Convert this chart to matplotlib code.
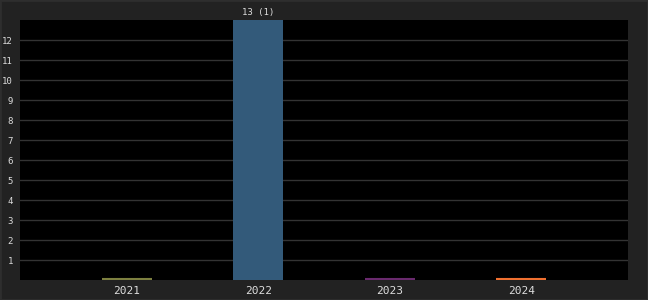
import matplotlib
matplotlib.use("Agg")
import matplotlib.pyplot as plt
from matplotlib.patches import Rectangle

categories = ["2021", "2022", "2023", "2024"]
values = [0, 13, 0, 0]
labels = ["", "13 (1)", "", ""]
colors = ["#7d8040", "#335a7a", "#6a2a6e", "#f07030"]
yticks = list(range(1, 13))

fig = plt.figure(figsize=(6.48, 3.0), dpi=100, facecolor="#222222")
ax = fig.add_axes([20/648, 20/300, 608/648, 260/300])
ax.set_facecolor("#000000")

x = list(range(len(categories)))
for xi, v, c, lab in zip(x, values, colors, labels):
    if v > 0:
        ax.bar(xi, v, width=0.38, color=c, zorder=3)
        ax.text(xi, v + 0.15, lab, ha="center", va="bottom", color="#dddddd",
                fontsize=6.5, family="DejaVu Sans Mono", clip_on=False)
    else:
        ax.plot([xi - 0.19, xi + 0.19], [0.03, 0.03], color=c, lw=1.5,
                solid_capstyle="butt", zorder=3)

ax.set_xlim(-0.81, 3.81)
ax.set_ylim(0, 13)
ax.set_yticks(yticks)
ax.set_yticklabels([str(t) for t in yticks], family="DejaVu Sans Mono",
                   fontsize=6.5, color="#dddddd")
ax.set_xticks(x)
ax.set_xticklabels(categories, family="DejaVu Sans Mono", fontsize=8, color="#dddddd")
ax.tick_params(axis="both", length=0)
ax.tick_params(axis="y", pad=5)
ax.tick_params(axis="x", pad=4)
ax.grid(axis="y", color="#333333", lw=1, zorder=0)
for s in ax.spines.values():
    s.set_visible(False)

fig.patches.append(Rectangle((0, 0), 1, 1, transform=fig.transFigure,
                             fill=False, edgecolor="#2e2e2e", lw=2))

fig.savefig("out.png", dpi=100, facecolor=fig.get_facecolor())
